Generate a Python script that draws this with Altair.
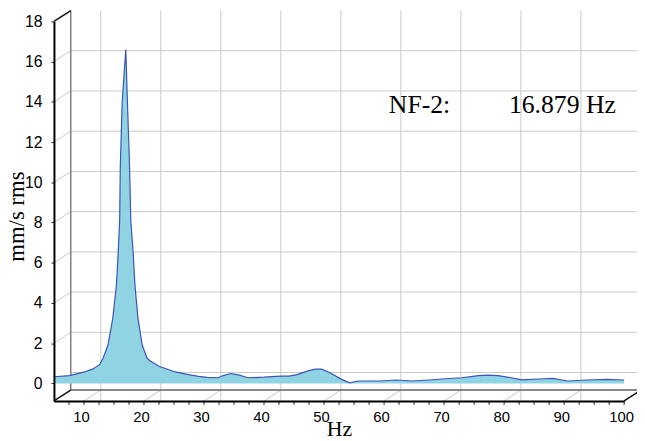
import altair as alt
import pandas as pd

# ---- data ----
hz = [5.0, 7.6, 10.1, 11.5, 12.6, 13.2, 14.0, 14.8, 15.4, 15.7, 15.95, 16.05, 16.37, 16.97,
      17.24, 17.6, 17.8, 18.2, 18.5, 19.0, 19.7, 20.5, 21.1, 22.5, 25.2, 27.0, 29.05, 30.5,
      32.35, 33.2, 34.5, 35.9, 37.3, 40.0, 42.8, 44.2, 45.5, 47.2, 48.5, 49.6, 51.0, 52.9,
      54.3, 55.7, 59.25, 62.0, 64.75, 67.5, 70.2, 73.0, 75.7, 77.4, 79.0, 81.2, 82.9, 86.7,
      88.1, 90.6, 93.9, 97.1, 100.0]
amp = [0.33, 0.39, 0.57, 0.72, 0.93, 1.26, 1.91, 3.23, 4.86, 6.5, 8.1, 10.75, 14.0, 16.6,
       14.0, 10.75, 8.1, 6.5, 4.86, 3.23, 1.91, 1.26, 1.1, 0.85, 0.57, 0.46, 0.35, 0.30,
       0.28, 0.39, 0.49, 0.41, 0.28, 0.31, 0.36, 0.36, 0.44, 0.61, 0.71, 0.71, 0.53, 0.20,
       0.03, 0.12, 0.12, 0.17, 0.12, 0.17, 0.23, 0.28, 0.39, 0.41, 0.39, 0.28, 0.18, 0.23,
       0.25, 0.12, 0.17, 0.20, 0.17]

x_major = [10, 20, 30, 40, 50, 60, 70, 80, 90, 100]
x_minor = [7.5 + 2.5 * i for i in range(38)]
y_ticks = [0.5 * i for i in range(37)]
y_grid = [0, 2, 4, 6, 8, 10, 12, 14, 16]
y_diag = [2, 4, 6, 8, 10, 12, 14, 16]
x_grid = [10, 20, 30, 40, 50, 60, 70, 80, 90, 100]

ann_text = ["NF-2:", "16.879 Hz"]
ann_hz = [60.8, 80.8]
ann_val = [13.44, 13.44]

X_MIN, X_MAX = 5, 100
Y_MIN, Y_MAX = -0.87, 18

W, H = 577, 384
DX, DY = 17, -11

df = pd.DataFrame({"hz": hz, "amp": amp, "base": 0.0})
xs = alt.Scale(domain=[X_MIN, X_MAX], nice=False, zero=False)
ys = alt.Scale(domain=[Y_MIN, Y_MAX], nice=False, zero=False)

GRID = "#c8c8c8"

x_axis = alt.Axis(values=x_major, format="d",
                  grid=False, domainColor="#000", domainWidth=2,
                  ticks=False, labelPadding=8.6, labelOffset=-3,
                  labelFont="Liberation Sans", labelFontSize=15, labelColor="#000",
                  labelFlush=False, labelOverlap=False, labelBound=False,
                  title="Hz", titleFont="Liberation Serif", titleFontSize=22,
                  titleFontWeight="normal", titleColor="#000",
                  titleBaseline="alphabetic", titleY=35, zindex=2)
y_axis = alt.Axis(values=y_ticks,
                  labelExpr="datum.value % 2 == 0 ? format(datum.value, 'd') : ''",
                  grid=False, domainColor="#000", domainWidth=2,
                  tickColor="#222", tickSize=3, tickWidth=1, labelPadding=9,
                  labelFont="Liberation Sans", labelFontSize=16, labelColor="#000",
                  labelFlush=False, labelOverlap=False, labelBound=False,
                  title="mm/s rms", titleFont="Liberation Serif", titleFontSize=23,
                  titleFontWeight="normal", titleColor="#000", titleAngle=270,
                  titleAlign="center", titleBaseline="alphabetic",
                  titleX=-30.5, titleY=197, zindex=2)

# invisible layer that carries the axes
axes_layer = alt.Chart(df).mark_point(opacity=0).encode(
    x=alt.X("hz:Q", scale=xs, axis=x_axis, title="Hz"),
    y=alt.Y("amp:Q", scale=ys, axis=y_axis, title="mm/s rms"))

xgrid_df = pd.DataFrame({"v": x_grid})
ygrid_df = pd.DataFrame({"v": y_grid})
ydiag_df = pd.DataFrame({"v": y_diag})

back_v = alt.Chart(xgrid_df).mark_rule(color=GRID, strokeWidth=1, xOffset=DX, yOffset=DY).encode(
    x=alt.X("v:Q", scale=xs), y=alt.value(0), y2=alt.value(H))
back_h = alt.Chart(ygrid_df).mark_rule(color=GRID, strokeWidth=1, xOffset=DX, yOffset=DY).encode(
    y=alt.Y("v:Q", scale=ys), x=alt.value(0), x2=alt.value(W + 20))
left_d = alt.Chart(ydiag_df).mark_rule(color=GRID, strokeWidth=1, y2Offset=DY).encode(
    y=alt.Y("v:Q", scale=ys), y2=alt.Y2("v:Q"), x=alt.value(0), x2=alt.value(DX))
floor_d = alt.Chart(pd.DataFrame({"v": x_grid[:-1]})).mark_rule(color=GRID, strokeWidth=1, x2Offset=DX).encode(
    x=alt.X("v:Q", scale=xs), x2=alt.X2("v:Q"), y=alt.value(H), y2=alt.value(H + DY))
# minor/major x ticks below the front axis
x_tick_marks = alt.Chart(pd.DataFrame({"v": x_minor})).mark_rule(color="#222", strokeWidth=1).encode(
    x=alt.X("v:Q", scale=xs), y=alt.value(H), y2=alt.value(H + 4))

frame_df = pd.DataFrame({"k": ["a"]})
top_edge = alt.Chart(frame_df).mark_rule(color="#111", strokeWidth=1.5).encode(
    x=alt.value(0), x2=alt.value(DX), y=alt.value(0), y2=alt.value(DY))
back_left = alt.Chart(frame_df).mark_rule(color="#808080", strokeWidth=1.5).encode(
    x=alt.value(DX), y=alt.value(DY), y2=alt.value(H + DY))
floor_left = alt.Chart(frame_df).mark_rule(color="#111", strokeWidth=1.5).encode(
    x=alt.value(0), x2=alt.value(DX), y=alt.value(H), y2=alt.value(H + DY))
floor_back = alt.Chart(frame_df).mark_rule(color="#606060", strokeWidth=1.5).encode(
    x=alt.value(DX), x2=alt.value(W + 20), y=alt.value(H + DY))
floor_right = alt.Chart(frame_df).mark_rule(color="#111", strokeWidth=1.5).encode(
    x=alt.value(W), x2=alt.value(W + DX), y=alt.value(H), y2=alt.value(H + DY))

area = alt.Chart(df).mark_area(color="#90d4e4", opacity=1).encode(
    x=alt.X("hz:Q", scale=xs), y=alt.Y("amp:Q", scale=ys), y2=alt.Y2("base:Q"))
line = alt.Chart(df).mark_line(color="#3a55b4", strokeWidth=1.2).encode(
    x=alt.X("hz:Q", scale=xs), y=alt.Y("amp:Q", scale=ys))

ann_df = pd.DataFrame({"t": ann_text, "hz": ann_hz, "v": ann_val})
ann = alt.Chart(ann_df).mark_text(font="Liberation Serif", fontSize=26, align="left",
                                  baseline="alphabetic", color="#000").encode(
    x=alt.X("hz:Q", scale=xs), y=alt.Y("v:Q", scale=ys), text="t:N")

chart = alt.layer(axes_layer, back_v, back_h, left_d, floor_d, back_left, floor_back, top_edge,
                  floor_left, floor_right, area, line, x_tick_marks, ann).properties(
    width=W, height=H,
    autosize=alt.AutoSizeParams(type="none"),
    padding={"left": 46.5, "top": 11, "right": 13, "bottom": 38},
).configure_view(stroke=None)

chart.save("out.html", embed_options={"renderer": "svg", "actions": False})
